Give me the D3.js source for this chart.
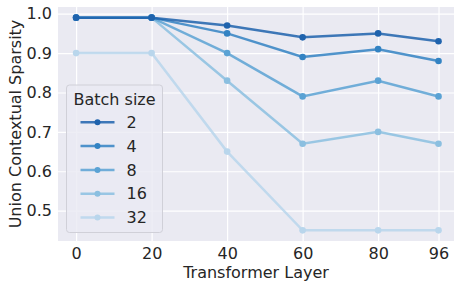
<!DOCTYPE html>
<html>
<head>
<meta charset="utf-8">
<script src="https://cdn.jsdelivr.net/npm/d3@7"></script>
<style>
  body { margin: 0; background: #fff; }
  svg text { font-family: "DejaVu Sans", sans-serif; fill: #262626; }
</style>
</head>
<body>
<div id="chart"></div>
<script>
// data
var layers = [0, 20, 40, 60, 80, 96];
var batchSizes = ["2", "4", "8", "16", "32"];
var batch2 = [0.99, 0.99, 0.97, 0.94, 0.95, 0.93];
var batch4 = [0.99, 0.99, 0.95, 0.89, 0.91, 0.88];
var batch8 = [0.99, 0.99, 0.90, 0.79, 0.83, 0.79];
var batch16 = [0.99, 0.99, 0.83, 0.67, 0.70, 0.67];
var batch32 = [0.90, 0.90, 0.65, 0.45, 0.45, 0.45];
var yTicks = [0.5, 0.6, 0.7, 0.8, 0.9, 1.0];
var colors = ["#1f63ad", "#3383c3", "#5aa2d4", "#8bbfe0", "#b9d6ec"];

var series = [batch2, batch4, batch8, batch16, batch32].map(function (vals, i) {
    return {
        name: batchSizes[i],
        color: colors[i],
        points: vals.map(function (v, j) { return {x: layers[j], y: v}; })
    };
});

var width = 454,
    height = 282,
    margin = {top: 7, right: 0, bottom: 41, left: 58};

var x = d3.scaleLinear()
    .domain([-4.8, 100.8])
    .range([margin.left, margin.left + (100.8 + 4.8) * 3.775]);

var y = d3.scaleLinear()
    .domain([0.423, 1.017])
    .range([height - margin.bottom, margin.top]);

var svg = d3.select("#chart").append("svg")
    .attr("width", width)
    .attr("height", height);

svg.append("clipPath").attr("id", "clip")
    .append("rect")
    .attr("x", margin.left)
    .attr("y", margin.top)
    .attr("width", width - margin.left)
    .attr("height", height - margin.top - margin.bottom);

// background
svg.append("rect")
    .attr("x", margin.left)
    .attr("y", margin.top)
    .attr("width", width - margin.left)
    .attr("height", height - margin.top - margin.bottom)
    .attr("fill", "#eaeaf2");

// axes + grid
var xAxis = svg.append("g")
    .attr("transform", "translate(0," + (height - margin.bottom) + ")")
    .call(d3.axisBottom(x).tickValues(layers).tickFormat(d3.format("d"))
        .tickSize(-(height - margin.top - margin.bottom)).tickPadding(6));

var yAxis = svg.append("g")
    .attr("transform", "translate(" + margin.left + ",0)")
    .call(d3.axisLeft(y).tickValues(yTicks).tickFormat(d3.format(".1f"))
        .tickSize(-(width - margin.left)).tickPadding(6));

[xAxis, yAxis].forEach(function (a) {
    a.select(".domain").remove();
    a.selectAll(".tick line").attr("stroke", "#ffffff").attr("stroke-width", 1.2);
    a.selectAll(".tick text").attr("font-size", "16px").attr("fill", "#262626");
});
xAxis.selectAll(".tick text").attr("dy", "0.78em");

// axis titles
svg.append("text")
    .attr("x", (margin.left + width) / 2)
    .attr("y", 278)
    .attr("text-anchor", "middle")
    .attr("font-size", "16px")
    .text("Transformer Layer");

svg.append("text")
    .attr("transform", "translate(21," + ((margin.top + height - margin.bottom) / 2) + ")rotate(-90)")
    .attr("text-anchor", "middle")
    .attr("font-size", "16px")
    .text("Union Contextual Sparsity");

// lines
var line = d3.line()
    .x(function (d) { return x(d.x); })
    .y(function (d) { return y(d.y); });

var plot = svg.append("g").attr("clip-path", "url(#clip)");

var groups = plot.selectAll(".series")
    .data(series.slice().reverse())
    .enter()
    .append("g")
    .attr("class", "series");

groups.append("path")
    .attr("d", function (d) { return line(d.points); })
    .attr("fill", "none")
    .attr("stroke", function (d) { return d.color; })
    .attr("stroke-opacity", 0.85)
    .attr("stroke-width", 2.5);

groups.selectAll("circle")
    .data(function (d) { return d.points.map(function (p) { return {p: p, color: d.color}; }); })
    .enter()
    .append("circle")
    .attr("cx", function (d) { return x(d.p.x); })
    .attr("cy", function (d) { return y(d.p.y); })
    .attr("r", 3.3)
    .attr("fill", function (d) { return d.color; });

// legend
var legend = svg.append("g").attr("transform", "translate(66.5,85)");

legend.append("rect")
    .attr("width", 96)
    .attr("height", 147.5)
    .attr("rx", 3)
    .attr("fill", "#eaeaf2")
    .attr("fill-opacity", 0.8)
    .attr("stroke", "#d0d0d8");

legend.append("text")
    .attr("x", 7)
    .attr("y", 20)
    .attr("font-size", "16px")
    .text("Batch size");

var items = legend.selectAll(".item")
    .data(series)
    .enter()
    .append("g")
    .attr("class", "item")
    .attr("transform", function (d, i) { return "translate(0," + (37.3 + i * 23.8) + ")"; });

items.append("line")
    .attr("x1", 14)
    .attr("x2", 48)
    .attr("stroke", function (d) { return d.color; })
    .attr("stroke-opacity", 0.85)
    .attr("stroke-width", 2.5);

items.append("circle")
    .attr("cx", 31)
    .attr("r", 3)
    .attr("fill", function (d) { return d.color; });

items.append("text")
    .attr("x", 60)
    .attr("dy", "0.36em")
    .attr("font-size", "16px")
    .text(function (d) { return d.name; });
</script>
</body>
</html>
